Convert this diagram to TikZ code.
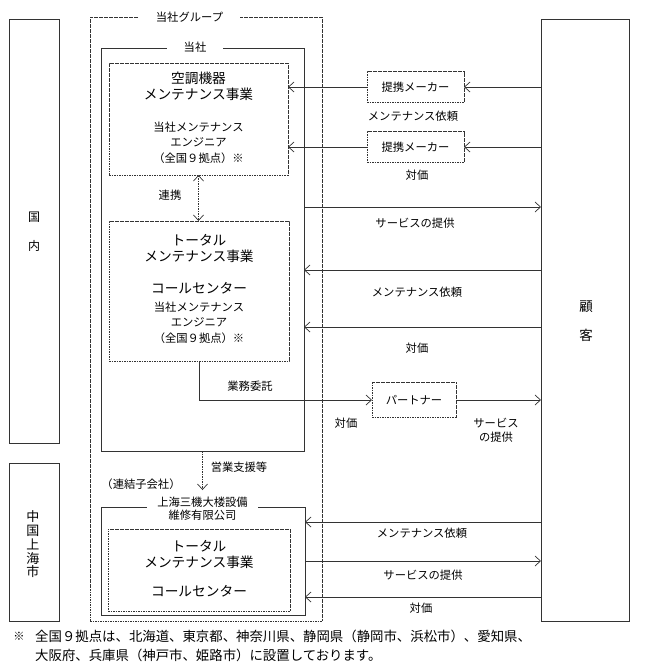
\documentclass[tikz,border=0pt]{standalone}
\usepackage{fontspec}
\setmainfont{Noto Sans CJK JP}
\usetikzlibrary{arrows,arrows.meta}
\usetikzlibrary{calc,shapes}

\begin{document}
\begin{tikzpicture}[x=1pt,y=-1pt,>={Straight Barb[length=5.5pt,width=10pt,line width=0.7pt]},
	cadre/.style={draw=black!80,line width=0.8pt,inner sep=0pt,outer sep=0pt},
	pointille/.style={draw=black!80,line width=0.7pt,dash pattern=on 1.6pt off 0.9pt,inner sep=0pt,outer sep=0pt},
	etiquette/.style={fill=white,inner ysep=1pt,font=\fontsize{11.3}{14}\selectfont,align=center},
	petit/.style={font=\fontsize{11.3}{15.5}\selectfont,align=center,inner sep=0pt},
	grand/.style={font=\fontsize{13.7}{16}\selectfont,align=center,inner sep=0pt},
	fleche/.style={->,line width=0.7pt,draw=black!80},
	tiret/.style={line width=0.7pt,draw=black!80,dash pattern=on 1.6pt off 0.9pt}]
				\useasboundingbox (0,0) rectangle (649,664);
				% Cadres
				\node [cadre,minimum width=50,minimum height=424] (kokunai) at (34,231) {};
				\node [cadre,minimum width=50,minimum height=158] (shanghaishi) at (34,542) {};
				\node [pointille,minimum width=232,minimum height=604] (groupe) at (206,319) {};
				\node [cadre,minimum width=203,minimum height=403] (tousha) at (202.5,249.5) {};
				\node [pointille,minimum width=179,minimum height=112] (kucho) at (198.5,119) {};
				\node [pointille,minimum width=180,minimum height=140] (total) at (199,291) {};
				\node [cadre,minimum width=204,minimum height=108] (shanghai) at (203,561) {};
				\node [pointille,minimum width=182,minimum height=82] (shtotal) at (199,570) {};
				\node [pointille,minimum width=97,minimum height=31] (maker1) at (415.5,87) {};
				\node [pointille,minimum width=97,minimum height=31] (maker2) at (415.5,147) {};
				\node [pointille,minimum width=84,minimum height=35] (partner) at (414,400) {};
				\node [cadre,minimum width=88,minimum height=602] (kokyaku) at (585,320) {};
				% Titres des cadres
				\node [etiquette,inner xsep=17pt] (groupelbl) at (189.5,17) {当社グループ};
				\node [etiquette,inner xsep=17pt] (toushalbl) at (195,47) {当社};
				\node [etiquette,inner xsep=10pt,font=\fontsize{11.3}{13.5}\selectfont] (shanghailbl) at (202.5,508.5) {上海三機大楼設備\\維修有限公司};
				\node [font=\fontsize{12}{29}\selectfont,align=center,inner sep=0pt] (kokunailbl) at (34,231.5) {国\\内};
				\node [font=\fontsize{13}{13.75}\selectfont,align=center,inner sep=0pt] (shanghaishilbl) at (33,544.5) {中\\国\\上\\海\\市};
				\node [font=\fontsize{13.5}{29}\selectfont,align=center,inner sep=0pt] (kokyakulbl) at (586,321.5) {顧\\客};
				% Contenu
				\node [grand] (kuchotitre) at (198.5,86.5) {空調機器\\メンテナンス事業};
				\node [petit] (kuchotexte) at (198.5,142.5) {当社メンテナンス\\エンジニア\\（全国９拠点）※};
				\node [grand] (totaltitre) at (199,248) {トータル\\メンテナンス事業};
				\node [grand] (totalcc) at (199,288) {コールセンター};
				\node [petit] (totaltexte) at (199,322.5) {当社メンテナンス\\エンジニア\\（全国９拠点）※};
				\node [grand] (shtitre) at (199,554) {トータル\\メンテナンス事業};
				\node [grand] (shcc) at (199,591) {コールセンター};
				\node [petit] (maker1lbl) at (maker1) {提携メーカー};
				\node [petit] (maker2lbl) at (maker2) {提携メーカー};
				\node [petit] (partnerlbl) at (partner) {パートナー};
				% Flèches
				\coordinate (ya) at (0,207);
				\coordinate (yb) at (0,270);
				\coordinate (yc) at (0,327);
				\coordinate (yd) at (0,522);
				\coordinate (ye) at (0,561);
				\coordinate (yf) at (0,597);
				\coordinate (eigyo) at (202.5,490);
				\draw [fleche] (kokyaku.west |- maker1.east) -- (maker1.east);
				\draw [fleche] (maker1.west) -- (kucho.east |- maker1.west);
				\draw [fleche] (kokyaku.west |- maker2.east) -- (maker2.east);
				\draw [fleche] (maker2.west) -- (kucho.east |- maker2.west);
				\draw [fleche] (tousha.east |- ya) -- (kokyaku.west |- ya);
				\draw [fleche] (kokyaku.west |- yb) -- (tousha.east |- yb);
				\draw [fleche] (kokyaku.west |- yc) -- (tousha.east |- yc);
				\draw [fleche] (total.south) |- (partner.west);
				\draw [fleche] (partner.east) -- (kokyaku.west |- partner.east);
				\draw [fleche] (kokyaku.west |- yd) -- (shanghai.east |- yd);
				\draw [fleche] (shanghai.east |- ye) -- (kokyaku.west |- ye);
				\draw [fleche] (kokyaku.west |- yf) -- (shanghai.east |- yf);
				\draw [tiret,<->] (kucho.south) -- (kucho.south |- total.north);
				\draw [tiret,->] (tousha.south) -- (eigyo);
				% Libellés
				\node [petit] (renkei) at (170,195) {連携};
				\node [petit] (gyomu) at (250,386) {業務委託};
				\node [petit] (eigyolbl) at (239,467) {営業支援等};
				\node [petit] (renketsu) at (141,484) {（連結子会社）};
				\node [petit] (irai1) at (413,116) {メンテナンス依頼};
				\node [petit] (taika1) at (417,175) {対価};
				\node [petit] (service1) at (415,223) {サービスの提供};
				\node [petit] (irai2) at (417,292) {メンテナンス依頼};
				\node [petit] (taika2) at (417,348) {対価};
				\node [petit] (taika3) at (346,423) {対価};
				\node [petit,font=\fontsize{11.3}{14}\selectfont] (service2) at (496,430) {サービス\\の提供};
				\node [petit] (irai3) at (422,533) {メンテナンス依頼};
				\node [petit] (service3) at (423,575) {サービスの提供};
				\node [petit] (taika4) at (421,608) {対価};
				% Note
				\node [petit] (notemark) at (19,636) {※};
				\node [font=\fontsize{13.4}{19.5}\selectfont,align=left,inner sep=0pt,anchor=west] (note) at (35,646) {全国９拠点は、北海道、東京都、神奈川県、静岡県（静岡市、浜松市）、愛知県、\\大阪府、兵庫県（神戸市、姫路市）に設置しております。};
				\end{tikzpicture}
\end{document}
